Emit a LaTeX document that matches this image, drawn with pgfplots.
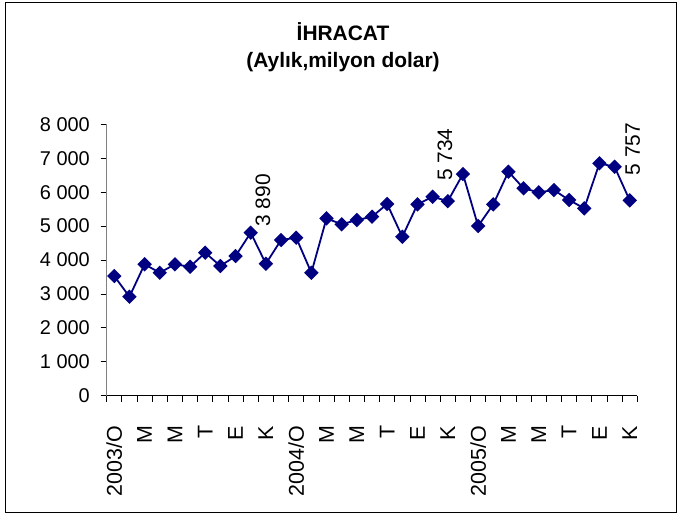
\documentclass[border=0pt]{standalone}
\usepackage{pgfplots}
\pgfplotsset{compat=1.18}
\usepackage{fontspec}
\setmainfont{Liberation Sans}
\definecolor{navy}{RGB}{0,0,128}
\begin{document}
\begin{tikzpicture}
\useasboundingbox (-106.7bp,-117.3bp) rectangle (570.3bp,395.7bp);
\draw[line width=1bp] (-100.7bp,-116.3bp) rectangle (569.3bp,392.7bp);
\node[font=\fontsize{21}{25}\selectfont\bfseries] at (236.3bp,364bp) {İHRACAT};
\node[font=\fontsize{21}{25}\selectfont\bfseries] at (236.3bp,334bp) {(Aylık,milyon dolar)};
\begin{axis}[
  at={(0,0)}, anchor=south west, scale only axis,
  width=530.6bp, height=271.4bp,
  xmin=-0.5, xmax=34.5, ymin=0, ymax=8000,
  axis x line*=bottom, axis y line*=left,
  x axis line style={black, line width=0.8bp},
  y axis line style={gray, line width=0.8bp},
  tick align=outside, major tick length=6bp,
  tick style={black, line width=0.8bp},
  xtick={-0.5,0.5,...,34.5},
  xticklabels={2003/O,,M,,M,,T,,E,,K,,2004/O,,M,,M,,T,,E,,K,,2005/O,,M,,M,,T,,E,,K,},
  ytick={0,1000,...,8000},
  yticklabels={0,1 000,2 000,3 000,4 000,5 000,6 000,7 000,8 000},
  yticklabel style={font=\fontsize{20}{24}\selectfont, inner sep=0pt, xshift=-10.7bp},
  xticklabel style={font=\fontsize{21.5}{25}\selectfont, inner sep=0pt, xshift=7.58bp, yshift=-24bp, rotate=90, anchor=east},
  clip=false,
]
\addplot[navy, line width=1.8bp, mark=square*, mark size=4.2bp, mark options={rotate=45, solid, fill=navy}] coordinates {
(0,3528) (1,2918) (2,3873) (3,3625) (4,3873) (5,3802) (6,4215) (7,3823) (8,4117) (9,4804)
(10,3890) (11,4589) (12,4657) (13,3625) (14,5228) (15,5052) (16,5178) (17,5276) (18,5650) (19,4686)
(20,5641) (21,5865) (22,5734) (23,6534) (24,5001) (25,5641) (26,6602) (27,6112) (28,5995) (29,6062)
(30,5768) (31,5523) (32,6849) (33,6749) (34,5757)
};
\node[xshift=-3bp, yshift=37bp, rotate=90, anchor=west, inner sep=0pt, font=\fontsize{21}{25}\selectfont] at (axis cs:10,3890) {3 890};
\node[xshift=-3bp, yshift=20bp, rotate=90, anchor=west, inner sep=0pt, font=\fontsize{21}{25}\selectfont] at (axis cs:22,5734) {5 734};
\node[xshift=3bp, yshift=25bp, rotate=90, anchor=west, inner sep=0pt, font=\fontsize{21}{25}\selectfont] at (axis cs:34,5757) {5 757};
\end{axis}
\end{tikzpicture}
\end{document}
